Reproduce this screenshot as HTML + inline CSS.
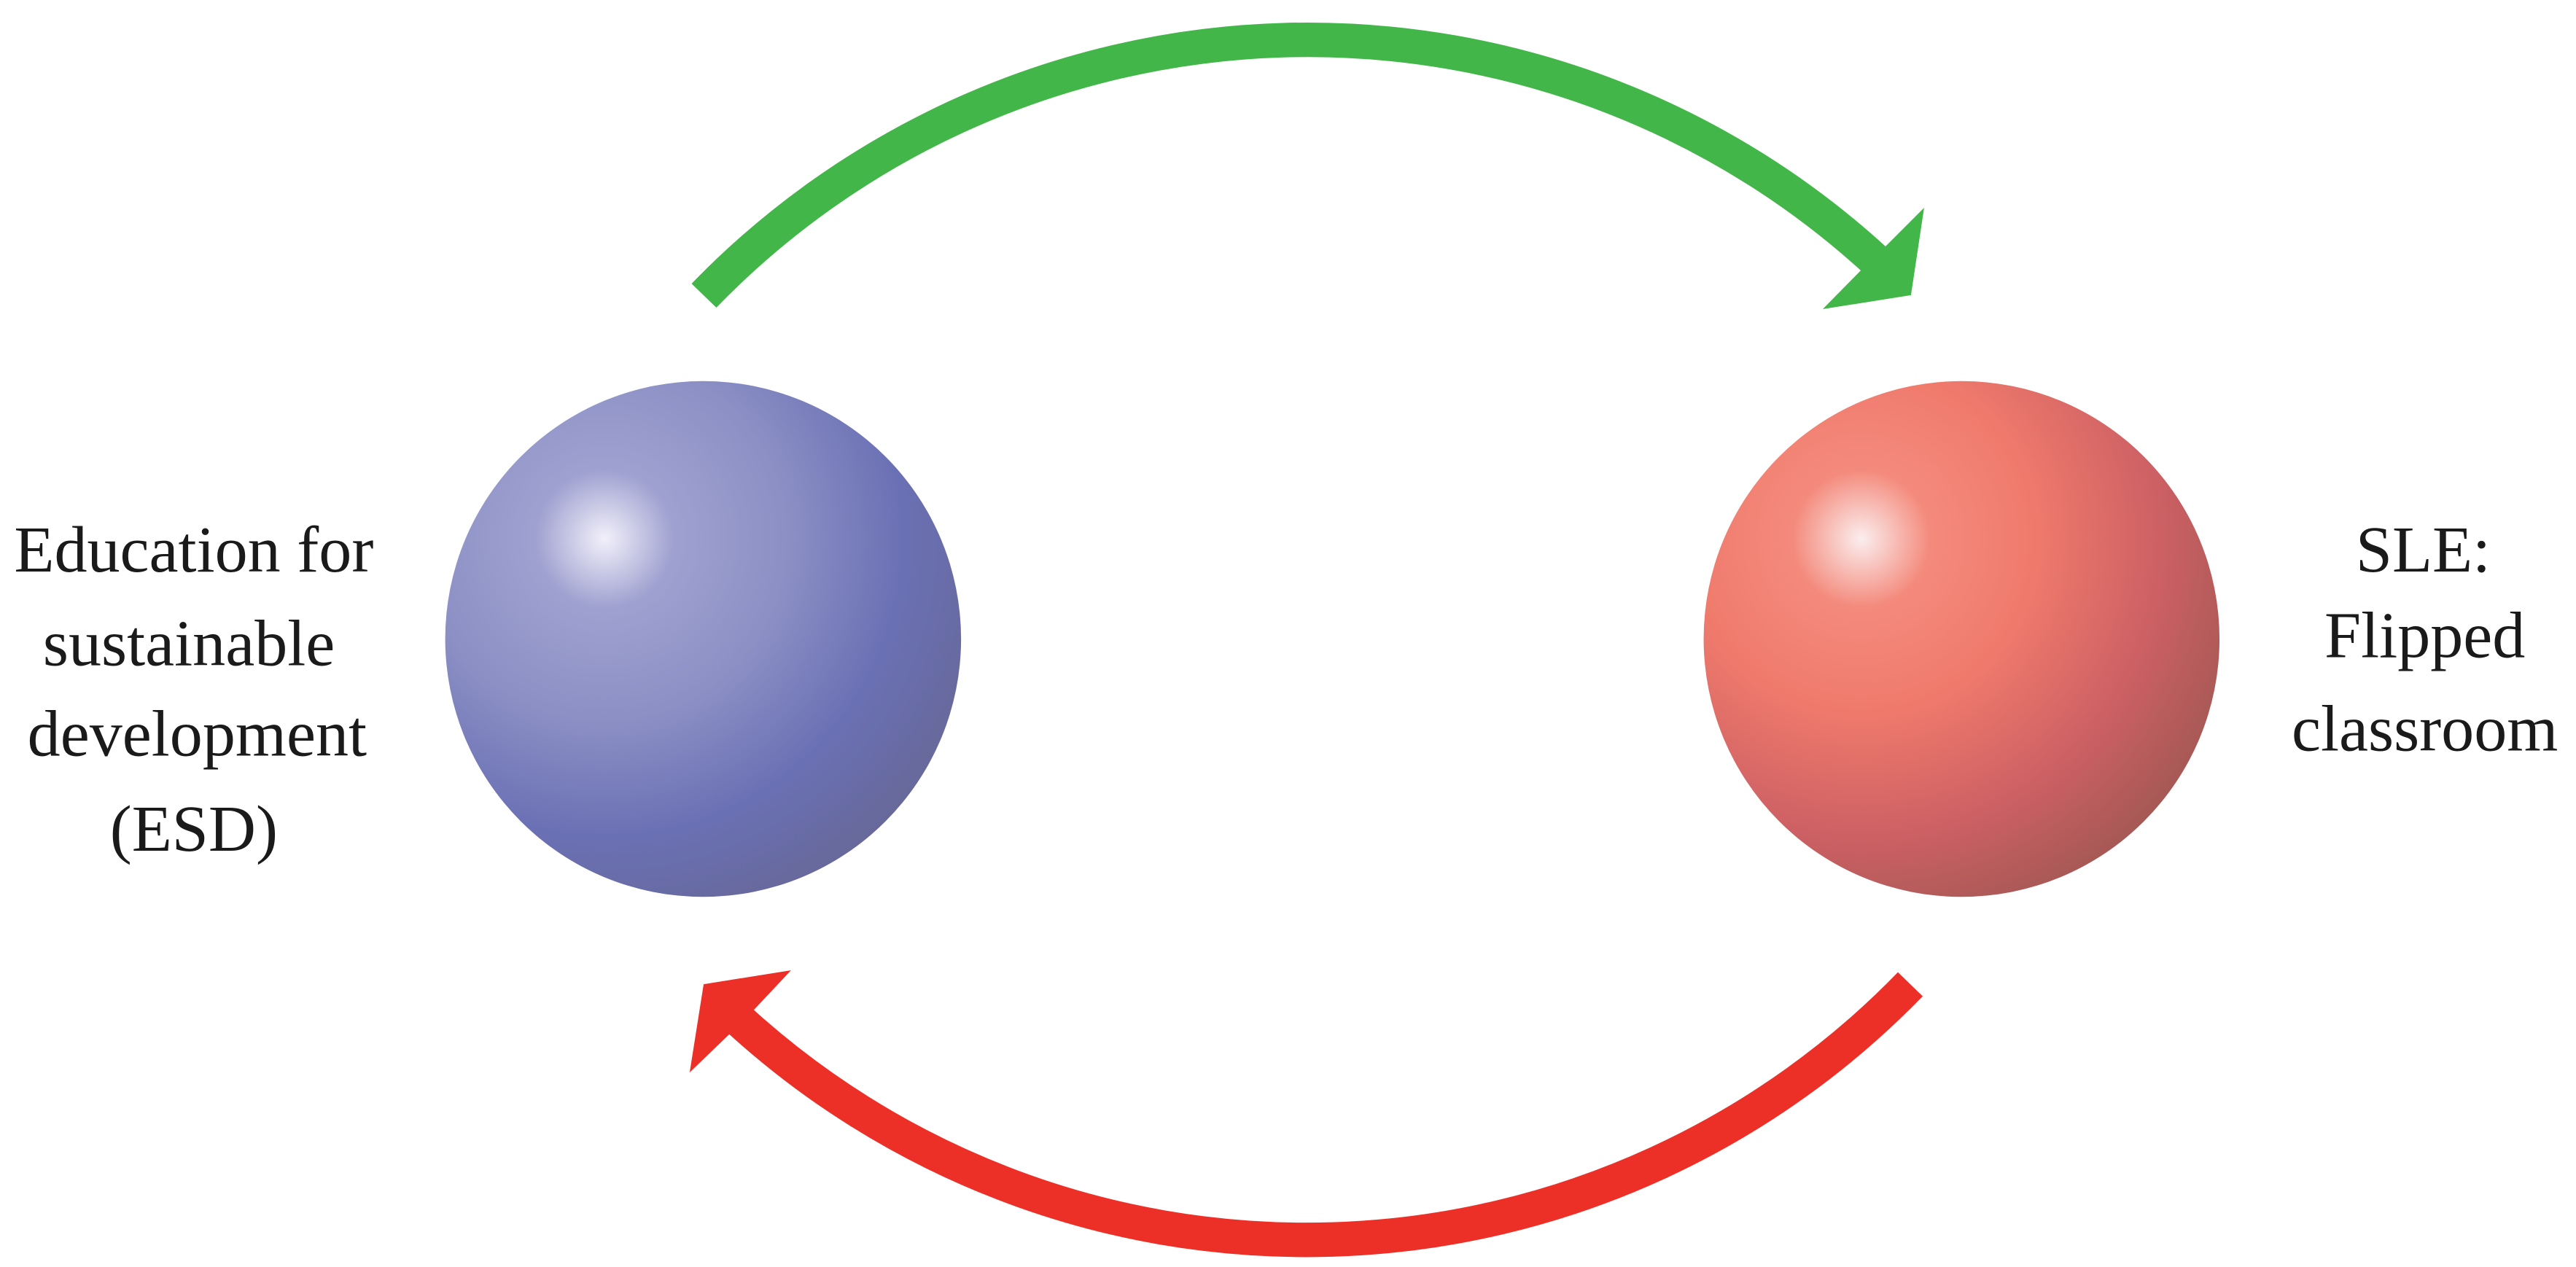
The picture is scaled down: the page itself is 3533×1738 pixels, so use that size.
<!DOCTYPE html>
<html><head><meta charset="utf-8"><style>
html,body{margin:0;padding:0;background:#fff;}
svg{display:block;}
</style></head><body>
<svg width="3533" height="1738" viewBox="0 0 1568 771.35" preserveAspectRatio="none" xmlns="http://www.w3.org/2000/svg">
<defs>
<radialGradient id="gb" cx="368" cy="328" r="280" fx="368" fy="328" gradientUnits="userSpaceOnUse">
<stop offset="0" stop-color="#f2f0fa"/>
<stop offset="0.15" stop-color="#9fa1d0"/>
<stop offset="0.4" stop-color="#8b8fc4"/>
<stop offset="0.65" stop-color="#6a70b4"/>
<stop offset="1" stop-color="#66648a"/>
</radialGradient>
<radialGradient id="gr" cx="1133" cy="328" r="280" fx="1133" fy="328" gradientUnits="userSpaceOnUse">
<stop offset="0" stop-color="#fbeeee"/>
<stop offset="0.15" stop-color="#f48a7c"/>
<stop offset="0.38" stop-color="#ef7a6c"/>
<stop offset="0.65" stop-color="#cd6064"/>
<stop offset="1" stop-color="#8e544c"/>
</radialGradient>
</defs>
<circle cx="428" cy="389" r="157" fill="url(#gb)"/>
<circle cx="1194" cy="389" r="157" fill="url(#gr)"/>
<path d="M428.5,180 A511.5,511.5 0 0 1 1142,159" fill="none" stroke="#42b649" stroke-width="21"/>
<polygon points="1171.2,126.5 1163.2,179.7 1109.5,188.2 1132.6,164.7 1147.7,150" fill="#42b649"/>
<path d="M1162.8,599.2 A512,512 0 0 1 450,621" fill="none" stroke="#ec3028" stroke-width="21"/>
<polygon points="481.5,590.7 428.3,599.2 419.8,652.9 443.8,629.8 459,614.7" fill="#ec3028"/>
<g font-family="'Liberation Serif', serif" font-size="40" fill="#1a1a1a" text-anchor="middle">
<text x="118" y="348">Education for</text>
<text x="115" y="405">sustainable</text>
<text x="120" y="460">development</text>
<text x="118" y="518">(ESD)</text>
<text x="1475" y="348">SLE:</text>
<text x="1476" y="400">Flipped</text>
<text x="1476" y="457">classroom</text>
</g>
</svg>
</body></html>
